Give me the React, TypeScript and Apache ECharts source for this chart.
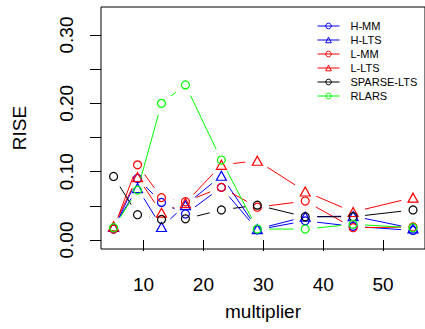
import React, { useEffect, useRef } from "react";
import * as echarts from "echarts";

const multipliers = [5, 9, 13, 17, 23, 29, 37, 45, 55];
const hMM = [0.016, 0.09, 0.055, 0.038, 0.077, 0.015, 0.028, 0.02, 0.014];
const hLTS = [0.019, 0.076, 0.019, 0.051, 0.094, 0.016, 0.034, 0.035, 0.017];
const lMM = [0.016, 0.11, 0.062, 0.056, 0.077, 0.048, 0.057, 0.018, 0.019];
const lLTS = [0.02, 0.092, 0.04, 0.054, 0.11, 0.116, 0.071, 0.041, 0.062];
const sparseLTS = [0.093, 0.037, 0.03, 0.031, 0.044, 0.051, 0.034, 0.034, 0.044];
const rlars = [0.018, 0.073, 0.2, 0.227, 0.117, 0.016, 0.016, 0.023, 0.018];

const xTicks = [10, 20, 30, 40, 50];
const yTicks = [0, 0.05, 0.1, 0.15, 0.2, 0.25, 0.3];
const yLabels = [0, 0.1, 0.2, 0.3];

const seriesDefs = [
  { name: "H-MM", values: hMM, color: "#0000FF", symbol: "circle" },
  { name: "H-LTS", values: hLTS, color: "#0000FF", symbol: "triangle" },
  { name: "L-MM", values: lMM, color: "#FF0000", symbol: "circle" },
  { name: "L-LTS", values: lLTS, color: "#FF0000", symbol: "triangle" },
  { name: "SPARSE-LTS", values: sparseLTS, color: "#000000", symbol: "circle" },
  { name: "RLARS", values: rlars, color: "#00FF00", symbol: "circle" },
];

const FONT = "Liberation Sans, Arial, Helvetica, sans-serif";
const GAP = 12;

export default function App() {
  const ref = useRef<HTMLDivElement>(null);
  useEffect(() => {
    if (!ref.current) return;
    const chart = echarts.init(ref.current, null, { renderer: "svg" });
    const series: any[] = [];
    seriesDefs.forEach((s, si) => {
      const segs: number[][] = [];
      for (let i = 0; i < multipliers.length - 1; i++) {
        segs.push([multipliers[i], s.values[i], multipliers[i + 1], s.values[i + 1]]);
      }
      series.push({
        type: "custom",
        name: s.name + "_lines",
        data: segs,
        encode: { x: [0, 2], y: [1, 3] },
        z: 2 + si * 0.01,
        renderItem: (params: any, api: any) => {
          const p1 = api.coord([api.value(0), api.value(1)]);
          const p2 = api.coord([api.value(2), api.value(3)]);
          const dx = p2[0] - p1[0];
          const dy = p2[1] - p1[1];
          const len = Math.sqrt(dx * dx + dy * dy);
          if (len <= 2 * GAP) return null;
          const ux = dx / len;
          const uy = dy / len;
          return {
            type: "line",
            shape: {
              x1: p1[0] + ux * GAP,
              y1: p1[1] + uy * GAP,
              x2: p2[0] - ux * GAP,
              y2: p2[1] - uy * GAP,
            },
            style: { stroke: s.color, lineWidth: 1, fill: null },
          };
        },
        silent: true,
      });
      series.push({
        type: "line",
        name: s.name,
        data: multipliers.map((x, i) => [x, s.values[i]]),
        symbol: s.symbol,
        symbolSize: s.symbol === "triangle" ? [10, 9] : 8,
        showSymbol: true,
        showAllSymbol: true,
        lineStyle: { color: s.color, opacity: 0, width: 1 },
        itemStyle: { color: "rgba(0,0,0,0)", borderColor: s.color, borderWidth: 1.2 },
        z: 2 + si * 0.01,
        silent: true,
      });
    });

    chart.setOption({
      animation: false,
      grid: {
        left: 101,
        top: 7,
        bottom: 80,
        right: -3.3,
        show: true,
        borderColor: "#000",
        borderWidth: 1,
        backgroundColor: "rgba(0,0,0,0)",
        containLabel: false,
      },
      legend: {
        orient: "vertical",
        left: 312,
        top: 14,
        itemWidth: 22,
        itemHeight: 7,
        itemGap: 0,
        data: seriesDefs.map((s) => s.name),
        lineStyle: { opacity: 1, width: 1 },
        itemStyle: { borderWidth: 1 },
        textStyle: {
          fontFamily: FONT,
          fontSize: 11,
          color: "#000",
          lineHeight: 14,
          padding: [0, 0, 0, 6],
        },
        selectedMode: false,
      },
      xAxis: {
        type: "value",
        min: 2.9,
        max: 57,
        axisLine: { show: false },
        splitLine: { show: false },
        axisTick: {
          show: true,
          length: 11,
          customValues: xTicks,
          lineStyle: { color: "#000", width: 1 },
        },
        axisLabel: {
          customValues: xTicks,
          fontSize: 19,
          fontFamily: FONT,
          color: "#000",
          margin: 26,
        },
        name: "multiplier",
        nameLocation: "middle",
        nameGap: 53,
        nameTextStyle: { fontSize: 19, fontFamily: FONT, color: "#000" },
      },
      yAxis: {
        type: "value",
        min: -0.01317,
        max: 0.341,
        axisLine: { show: false },
        splitLine: { show: false },
        axisTick: {
          show: true,
          length: 11,
          customValues: yTicks,
          lineStyle: { color: "#000", width: 1 },
        },
        axisLabel: {
          customValues: yLabels,
          rotate: 90,
          fontSize: 19,
          fontFamily: FONT,
          color: "#000",
          margin: 25,
          formatter: (v: number) => v.toFixed(2),
        },
        name: "RISE",
        nameLocation: "middle",
        nameRotate: 90,
        nameGap: 72,
        nameTextStyle: { fontSize: 19, fontFamily: FONT, color: "#000" },
      },
      series,
    });
    return () => chart.dispose();
  }, []);
  return (
    <div
      ref={ref}
      style={{ position: "fixed", left: 0, top: 0, width: 425, height: 329, background: "#fff" }}
    />
  );
}
